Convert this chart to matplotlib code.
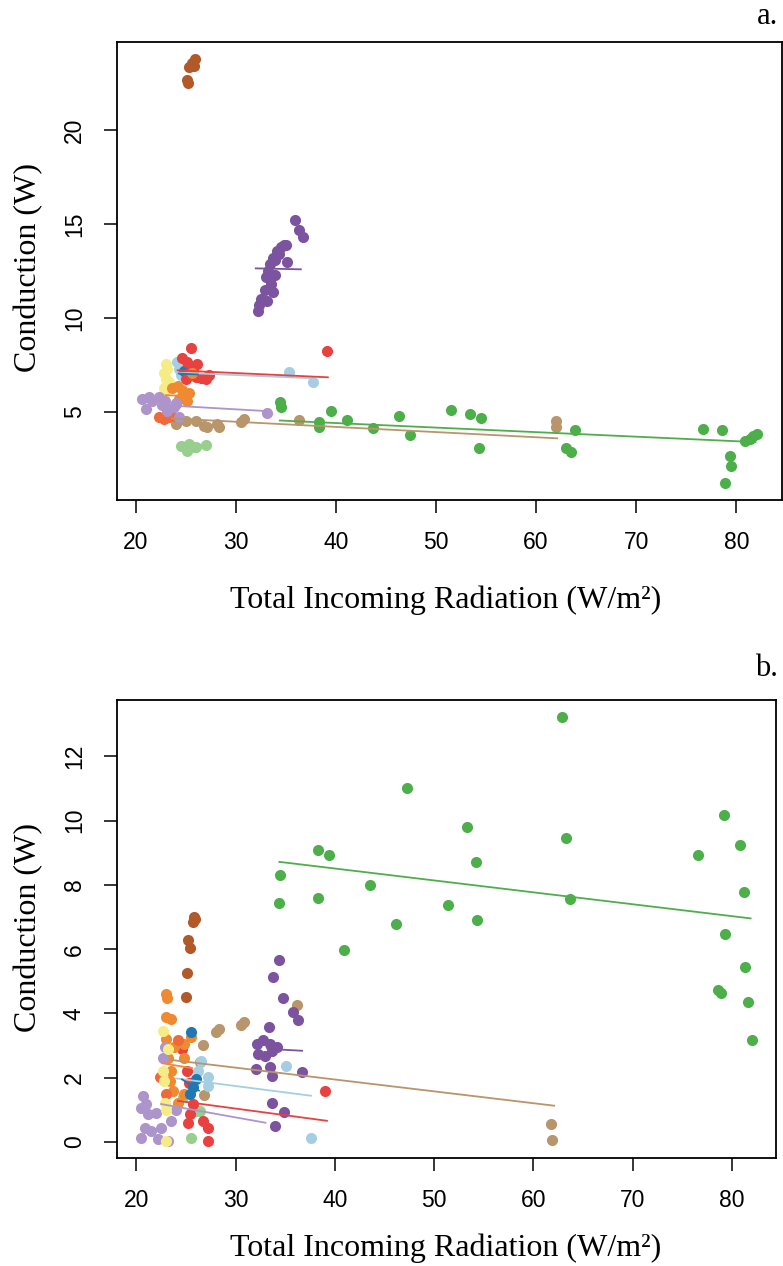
import matplotlib
matplotlib.use("Agg")
import matplotlib.pyplot as plt
import numpy as np

# ---- panel a : conduction vs total incoming radiation ----
brown_x_a = [25.9, 25.6, 25.3, 25.8, 25.1, 25.2]
brown_y_a = [23.8, 23.6, 23.35, 23.45, 22.7, 22.5]

purple_x_a = [35.9, 36.3, 36.7, 35.0, 34.5, 34.1, 33.7, 33.4, 33.2, 35.1, 33.9, 33.5,
              32.9, 33.7, 32.5, 33.1, 32.2, 32.3, 33.9, 34.8, 33.0, 34.3]
purple_y_a = [15.2, 14.7, 14.3, 13.9, 13.8, 13.6, 13.2, 12.9, 12.5, 13.0, 12.3, 11.8,
              11.5, 11.4, 11.0, 10.9, 10.4, 10.7, 13.1, 13.9, 12.2, 13.4]
purple_line_a = ([32.0, 36.5], [12.65, 12.6])

red_x_a = [25.5, 39.1, 24.6, 25.1, 26.1, 25.3, 26.0, 27.0, 27.3, 25.0, 25.7, 26.5]
red_y_a = [8.4, 8.23, 7.9, 7.65, 7.55, 7.1, 6.85, 6.75, 6.95, 6.75, 7.3, 6.8]
red_line_a = ([24.2, 39.2], [7.22, 6.85])

lblue_x_a = [24.1, 24.3, 24.5, 35.3, 37.7]
lblue_y_a = [7.65, 7.3, 6.97, 7.15, 6.6]
lblue_line_a = ([24.3, 37.6], [7.1, 6.8])

dblue_x_a = [25.0, 25.3, 24.8]
dblue_y_a = [7.1, 7.0, 7.2]
dblue_line_a = ([24.3, 26.2], [7.05, 7.0])

yellow_x_a = [23.0, 23.1, 22.8, 23.0, 22.8, 22.8, 22.6, 23.3]
yellow_y_a = [7.55, 7.3, 7.1, 6.75, 6.3, 5.95, 5.7, 6.6]

orange_x_a = [23.6, 24.6, 24.8, 24.3, 25.1, 24.0, 25.3, 24.2, 25.6]
orange_y_a = [6.3, 6.2, 5.9, 5.7, 5.6, 5.45, 6.0, 6.4, 7.1]
orange_line_a = ([23.0, 25.4], [5.9, 5.85])

ored_x_a = [22.3, 22.8, 23.3, 23.6]
ored_y_a = [4.72, 4.63, 4.72, 4.8]

lpurple_x_a = [20.6, 21.0, 21.6, 22.3, 22.6, 23.1, 23.8, 24.3, 33.1, 21.3, 22.9, 24.0]
lpurple_y_a = [5.7, 5.15, 5.6, 5.8, 5.35, 5.05, 5.25, 4.72, 4.95, 5.8, 5.6, 5.5]
lpurple_line_a = ([23.3, 33.1], [5.35, 5.05])

tan_x_a = [24.0, 25.0, 26.0, 26.8, 27.1, 28.1, 28.3, 30.5, 30.8, 36.3, 62.0, 62.0]
tan_y_a = [4.36, 4.54, 4.54, 4.27, 4.19, 4.36, 4.19, 4.45, 4.63, 4.6, 4.54, 4.19]
tan_line_a = ([23.6, 62.1], [4.66, 3.6])

lgreen_x_a = [24.5, 25.3, 26.0, 27.0, 25.1, 25.6]
lgreen_y_a = [3.2, 3.3, 3.12, 3.22, 2.95, 3.15]

green_x_a = [34.45, 34.55, 38.3, 38.3, 39.5, 41.1, 43.7, 46.3, 47.4, 51.5, 53.4, 54.5,
             54.3, 63.9, 62.96, 63.5, 76.7, 78.6, 79.4, 79.5, 78.9, 80.9, 81.4, 81.7, 82.1]
green_y_a = [5.52, 5.25, 4.45, 4.19, 5.04, 4.56, 4.15, 4.79, 3.78, 5.11, 4.88, 4.7,
             3.07, 4.04, 3.07, 2.89, 4.11, 4.04, 2.64, 2.14, 1.22, 3.46, 3.56, 3.7, 3.83]
green_line_a = ([34.4, 81.9], [4.55, 3.4])

# ---- panel b ----
brown_x_b = [25.8, 25.7, 25.9, 25.2, 25.4, 25.1, 25.0]
brown_y_b = [7.0, 6.85, 6.95, 6.3, 6.05, 5.25, 4.5]

purple_x_b = [34.4, 33.8, 34.8, 35.8, 36.3, 33.4, 32.2, 32.8, 33.5, 34.2, 32.3, 33.0,
              33.7, 32.0, 33.5, 33.7, 36.7, 33.7, 34.9, 34.0]
purple_y_b = [5.66, 5.14, 4.49, 4.04, 3.8, 3.59, 3.05, 3.16, 3.05, 2.95, 2.74, 2.69,
              2.84, 2.27, 2.34, 2.06, 2.17, 1.2, 0.92, 0.5]
purple_line_b = ([33.2, 36.7], [2.9, 2.84])

tan_x_b = [36.2, 30.5, 30.85, 28.0, 28.35, 26.75, 26.4, 26.85, 61.8, 61.9]
tan_y_b = [4.25, 3.63, 3.73, 3.42, 3.52, 3.03, 2.48, 1.47, 0.55, 0.07]
tan_line_b = ([23.6, 62.1], [2.55, 1.13])

lblue_x_b = [26.5, 27.2, 27.2, 26.2, 35.1, 37.6]
lblue_y_b = [2.53, 2.01, 1.75, 2.22, 2.38, 0.14]
lblue_line_b = ([24.0, 37.6], [1.98, 1.44])

red_x_b = [39.0, 25.2, 25.4, 26.7, 27.2, 27.2, 25.7, 25.1, 25.3, 24.6]
red_y_b = [1.59, 0.6, 0.87, 0.66, 0.45, 0.03, 1.18, 2.2, 1.85, 2.9]
red_line_b = ([24.2, 39.2], [1.28, 0.66])

lpurple_x_b = [20.7, 20.5, 21.2, 20.9, 21.5, 20.5, 22.5, 23.5, 23.2, 22.2, 22.9, 22.7,
               21.0, 22.0, 24.0]
lpurple_y_b = [1.44, 1.07, 0.87, 0.45, 0.34, 0.13, 0.45, 0.66, 0.03, 0.08, 2.95, 2.63,
               1.18, 0.9, 1.0]
lpurple_line_b = ([22.5, 33.0], [1.18, 0.6])

yellow_x_b = [22.7, 22.7, 22.8, 23.0, 22.9, 23.2, 23.0]
yellow_y_b = [3.47, 2.22, 1.9, 0.03, 1.2, 2.9, 1.0]

orange_x_b = [23.0, 23.1, 23.0, 23.5, 23.0, 23.8, 24.8, 25.5, 24.8, 23.5, 23.4, 23.7,
              24.8, 22.5, 24.2, 23.2]
orange_y_b = [4.62, 4.47, 3.88, 3.84, 3.2, 2.95, 3.05, 3.26, 2.63, 2.22, 1.91, 1.59,
              1.49, 2.01, 1.2, 2.6]
orange_line_b = ([22.6, 25.6], [2.45, 2.3])

ored_x_b = [24.2, 22.4, 23.0]
ored_y_b = [3.16, 2.01, 1.5]

dblue_x_b = [25.5, 26.0, 25.7, 25.4]
dblue_y_b = [3.42, 1.96, 1.7, 1.49]
dblue_line_b = ([24.6, 26.3], [1.95, 1.6])

lgreen_x_b = [25.5, 26.0, 24.7, 26.4]
lgreen_y_b = [0.14, 0.97, 1.39, 0.97]

green_x_b = [62.9, 47.3, 53.3, 63.3, 79.25, 38.3, 39.4, 54.2, 76.6, 80.8, 43.55, 38.3,
             51.4, 63.7, 81.2, 46.2, 54.3, 79.35, 40.9, 81.3, 81.6, 78.6, 78.9, 82.0,
             34.4, 34.5]
green_y_b = [13.23, 11.01, 9.8, 9.46, 10.19, 9.08, 8.93, 8.7, 8.94, 9.23, 8.01, 7.58,
             7.39, 7.55, 7.77, 6.8, 6.91, 6.47, 5.99, 5.45, 4.35, 4.72, 4.65, 3.18,
             7.44, 8.3]
green_line_b = ([34.4, 81.9], [8.72, 6.96])

col = {
    "lgreen": "#98CF8E", "tan": "#B8956B", "green": "#4DAF4A", "lblue": "#A6CEE3",
    "dblue": "#1F78B4", "red": "#E8413F", "yellow": "#F6EC86", "orange": "#F08A30",
    "ored": "#EF6A3A", "lpurple": "#AD94CB", "purple": "#7B539E", "brown": "#B15928",
}

groups_a = [
    ("lgreen", lgreen_x_a, lgreen_y_a, None),
    ("tan", tan_x_a, tan_y_a, tan_line_a),
    ("green", green_x_a, green_y_a, green_line_a),
    ("lblue", lblue_x_a, lblue_y_a, lblue_line_a),
    ("dblue", dblue_x_a, dblue_y_a, dblue_line_a),
    ("red", red_x_a, red_y_a, red_line_a),
    ("yellow", yellow_x_a, yellow_y_a, None),
    ("orange", orange_x_a, orange_y_a, orange_line_a),
    ("ored", ored_x_a, ored_y_a, None),
    ("lpurple", lpurple_x_a, lpurple_y_a, lpurple_line_a),
    ("purple", purple_x_a, purple_y_a, purple_line_a),
    ("brown", brown_x_a, brown_y_a, None),
]
groups_b = [
    ("lgreen", lgreen_x_b, lgreen_y_b, None),
    ("green", green_x_b, green_y_b, green_line_b),
    ("tan", tan_x_b, tan_y_b, tan_line_b),
    ("lblue", lblue_x_b, lblue_y_b, lblue_line_b),
    ("red", red_x_b, red_y_b, red_line_b),
    ("orange", orange_x_b, orange_y_b, orange_line_b),
    ("ored", ored_x_b, ored_y_b, None),
    ("dblue", dblue_x_b, dblue_y_b, dblue_line_b),
    ("lpurple", lpurple_x_b, lpurple_y_b, lpurple_line_b),
    ("yellow", yellow_x_b, yellow_y_b, None),
    ("purple", purple_x_b, purple_y_b, purple_line_b),
    ("brown", brown_x_b, brown_y_b, None),
]

W, H = 783, 1266
fig = plt.figure(figsize=(W / 100, H / 100), dpi=100)
serif = "Liberation Serif"
sans = "Liberation Sans"


def panel(rect, groups, yticks, letter, letter_y):
    ax = fig.add_axes(rect)
    for name, xs, ys, line in groups:
        ax.plot(xs, ys, "o", color=col[name], ms=8, mec="none", zorder=2)
        if line is not None:
            ax.plot(line[0], line[1], "-", color=col[name], lw=1.3, zorder=3)
    allx = np.concatenate([g[1] for g in groups])
    ally = np.concatenate([g[2] for g in groups])
    dx = (allx.max() - allx.min()) * 0.04
    dy = (ally.max() - ally.min()) * 0.04
    ax.set_xlim(allx.min() - dx, allx.max() + dx)
    ax.set_ylim(ally.min() - dy, ally.max() + dy)
    ax.set_xticks([20, 30, 40, 50, 60, 70, 80])
    ax.set_yticks(yticks)
    ax.tick_params(direction="out", length=9.5, width=1.1, pad=13, labelsize=16.5)
    for lab in ax.get_xticklabels() + ax.get_yticklabels():
        lab.set_fontfamily(sans)
    for lab in ax.get_yticklabels():
        lab.set_rotation(90)
        lab.set_va("center")
    for s in ax.spines.values():
        s.set_linewidth(1.3)
    fig.text(778 / W, 1 - letter_y / H, letter, ha="right", va="center",
             fontsize=22, fontfamily=serif)
    return ax


ax1 = panel([117 / W, 1 - 500 / H, 665 / W, 458 / H], groups_a, [5, 10, 15, 20], "a.", 16)
ax2 = panel([117 / W, 1 - 1158 / H, 659 / W, 458 / H], groups_b, [0, 2, 4, 6, 8, 10, 12], "b.", 668)

xlabel = "Total Incoming Radiation (W/m\u00b2)"
fig.text(446 / W, 1 - 600 / H, xlabel, ha="center", va="center", fontsize=23, fontfamily=serif)
fig.text(446 / W, 1 - 1248 / H, xlabel, ha="center", va="center", fontsize=23, fontfamily=serif)
fig.text(29 / W, 1 - 268 / H, "Conduction (W)", rotation=90, ha="center", va="center",
         fontsize=23, fontfamily=serif)
fig.text(29 / W, 1 - 928 / H, "Conduction (W)", rotation=90, ha="center", va="center",
         fontsize=23, fontfamily=serif)

fig.savefig("out.png", dpi=100)
